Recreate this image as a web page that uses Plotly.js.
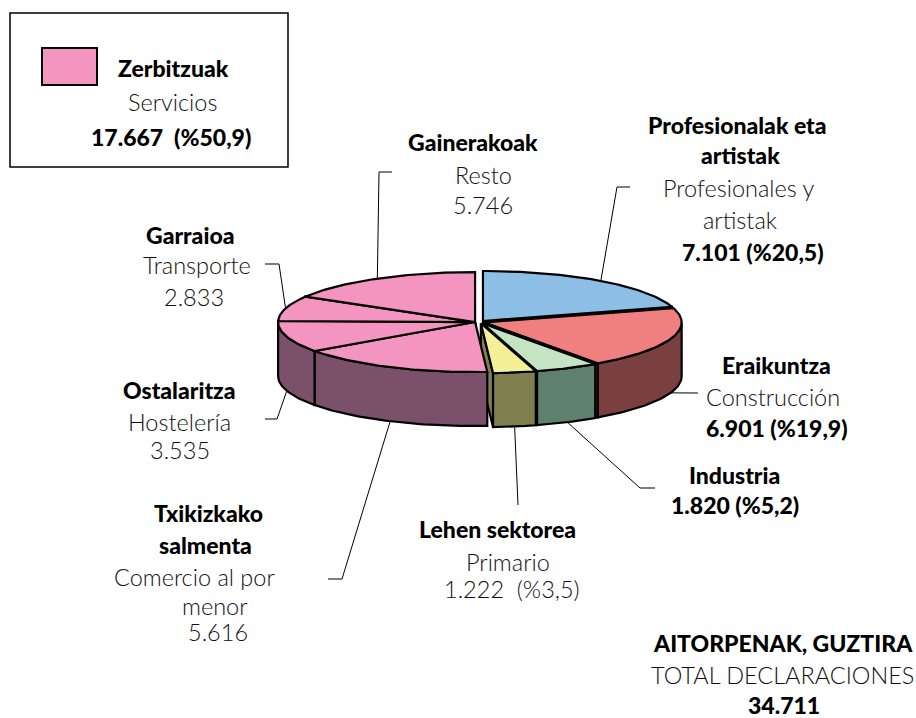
<!DOCTYPE html>
<html><head><meta charset="utf-8">
<script src="https://cdn.plot.ly/plotly-3.0.1.min.js"></script>
<style>html,body{margin:0;padding:0;background:#fff}#chart{width:916px;height:718px}</style>
</head><body><div id="chart"></div>
<script>
// ---------- DATA ----------
const sectorNamesEu = ['Profesionalak eta\nartistak','Eraikuntza','Industria','Lehen sektorea','Txikizkako\nsalmenta','Ostalaritza','Garraioa','Gainerakoak'];
const sectorNamesEs = ['Profesionales y\nartistak','Construcción','','Primario','Comercio al por\nmenor','Hostelería','Transporte','Resto'];
const sectorValues = [7101, 6901, 1820, 1222, 5616, 3535, 2833, 5746];
const sectorGroups = ['prof','cons','ind','prim','serv','serv','serv','serv'];
const servicesNameEu = 'Zerbitzuak';
const servicesNameEs = 'Servicios';
const servicesValue = 17667;
const totalNameEu = 'AITORPENAK, GUZTIRA';
const totalNameEs = 'TOTAL DECLARACIONES';
const totalValue = 34711;

// ---------- STYLE / GEOMETRY ----------
const topColors  = ['#8CBEE6','#F08080','#C4E4C4','#F4F098','#F494C0','#F494C0','#F494C0','#F494C0'];
const sideColors = ['#5F7F9A','#7A4040','#60806E','#80804F','#7A506A','#7A506A','#7A506A','#7A506A'];
const CX = 480, CY = 322, RX = 197, RY = 50, DEPTH = 54, EXPL = 0.025;
const FONT = 'Lato, "Open Sans", sans-serif';

const labelLayout = [
  {lines:[[737,125],[740,155],[739,188],[740,220],[753,252]], value:'boldPct',  leader:[[617,187],[630,187]]},
  {lines:[[776,365],[773,397],[777,428]],                     value:'boldPct',  leader:[[698,393]]},
  {lines:[[734,475],[735,505]],                               value:'boldPct',  leader:[[640,488],[655,488]]},
  {lines:[[497,529],[508,562],[512,589]],                     value:'lightPct', leader:[[518,505]]},
  {lines:[[208,513],[205,545],[194,577],[215,606],[218,632]], value:'light',    leader:[[342,579],[328,579]]},
  {lines:[[179,390],[179,422],[180,450]],                     value:'light',    leader:[[277,419],[265,419]]},
  {lines:[[190,235],[197,265],[194,297]],                     value:'light',    leader:[[279,264],[265,264]]},
  {lines:[[473,142],[483,175],[483,205]],                     value:'light',    leader:[[379,172],[392,172]]}
];

// ---------- HELPERS ----------
const fmtInt = v => String(v).replace(/\B(?=(\d{3})+(?!\d))/g, '.');
const fmtPct = v => (v / totalValue * 100).toFixed(1).replace('.', ',');
const rad = d => d * Math.PI / 180;

const sum = sectorValues.reduce((a, b) => a + b, 0);
const starts = [], ends = [];
let acc = 0;
sectorValues.forEach(v => { starts.push(acc / sum * 360); acc += v; ends.push(acc / sum * 360); });

const groupRange = {};
sectorGroups.forEach((g, i) => {
  if (!groupRange[g]) groupRange[g] = [starts[i], ends[i]];
  else { groupRange[g][0] = Math.min(groupRange[g][0], starts[i]); groupRange[g][1] = Math.max(groupRange[g][1], ends[i]); }
});
const offsets = sectorGroups.map(g => {
  const m = rad((groupRange[g][0] + groupRange[g][1]) / 2);
  return [EXPL * RX * Math.sin(m), -EXPL * RY * Math.cos(m)];
});

function pt(theta, off, down) {
  const t = rad(theta);
  return [CX + off[0] + RX * Math.sin(t), CY + off[1] - RY * Math.cos(t) + (down ? DEPTH : 0)];
}
function arc(a, b, off, down) {
  const n = Math.max(2, Math.ceil(Math.abs(b - a)));
  const p = [];
  for (let k = 0; k <= n; k++) p.push(pt(a + (b - a) * k / n, off, down));
  return p;
}
function poly(pts, fill) {
  const c = pts.concat([pts[0]]);
  return {type:'scatter', mode:'lines', x:c.map(p => p[0]), y:c.map(p => p[1]),
    fill:'toself', fillcolor:fill, line:{color:'#000', width:2.2},
    hoverinfo:'skip', showlegend:false};
}

const traces = [];
sectorValues.forEach((v, i) => {
  const off = offsets[i];
  const c0 = [CX + off[0], CY + off[1]], c1 = [CX + off[0], CY + off[1] + DEPTH];
  [[ends[i], Math.sin(rad(ends[i])) > 0], [starts[i], Math.sin(rad(starts[i])) < 0]].forEach(([ang, vis]) => {
    if (vis) traces.push(poly([c0, pt(ang, off, false), pt(ang, off, true), c1], sideColors[i]));
  });
});
sectorValues.forEach((v, i) => {
  const a = Math.max(starts[i], 90), b = Math.min(ends[i], 270);
  if (b > a) traces.push(poly(arc(a, b, offsets[i], false).concat(arc(b, a, offsets[i], true)), sideColors[i]));
});
sectorValues.forEach((v, i) => {
  const off = offsets[i];
  traces.push(poly([[CX + off[0], CY + off[1]]].concat(arc(starts[i], ends[i], off, false)), topColors[i]));
});
sectorValues.forEach((v, i) => {
  const mid = (starts[i] + ends[i]) / 2;
  const front = Math.cos(rad(mid)) < 0;
  const s = pt(mid, offsets[i], front);
  const p = [s].concat(labelLayout[i].leader);
  traces.push({type:'scatter', mode:'lines', x:p.map(q => q[0]), y:p.map(q => q[1]),
    line:{color:'#000', width:1}, hoverinfo:'skip', showlegend:false});
});

// ---------- TEXT ----------
const annotations = [];
function txt(x, y, text, bold) {
  annotations.push({x, y, xref:'x', yref:'y', text, showarrow:false, xanchor:'center', yanchor:'middle',
    font: bold ? {family:FONT, size:23, color:'#000', weight:900} : {family:FONT, size:23.5, color:'#111', weight:300}});
}
sectorValues.forEach((v, i) => {
  const L = labelLayout[i];
  const items = [];
  sectorNamesEu[i].split('\n').forEach(s => items.push([s, true]));
  if (sectorNamesEs[i]) sectorNamesEs[i].split('\n').forEach(s => items.push([s, false]));
  if (L.value === 'boldPct') items.push([fmtInt(v) + ' (%' + fmtPct(v) + ')', true]);
  else if (L.value === 'lightPct') items.push([fmtInt(v) + '  (%' + fmtPct(v) + ')', false]);
  else items.push([fmtInt(v), false]);
  items.forEach((it, k) => txt(L.lines[k][0], L.lines[k][1], it[0], it[1]));
});
txt(173, 68, servicesNameEu, true);
txt(172, 102, servicesNameEs, false);
txt(171, 137, fmtInt(servicesValue) + '  (%' + fmtPct(servicesValue) + ')', true);
txt(783, 643, totalNameEu, true);
txt(782, 675, totalNameEs, false);
txt(784, 705, fmtInt(totalValue), true);

const shapes = [
  {type:'rect', xref:'x', yref:'y', x0:10, y0:13, x1:288, y1:167, line:{color:'#000', width:1.5}, fillcolor:'rgba(0,0,0,0)'},
  {type:'rect', xref:'x', yref:'y', x0:42, y0:48, x1:97, y1:85, line:{color:'#000', width:2}, fillcolor:topColors[4]}
];

const layout = {
  width:916, height:718, margin:{l:0, r:0, t:0, b:0},
  paper_bgcolor:'#fff', plot_bgcolor:'#fff',
  xaxis:{range:[0,916], visible:false, fixedrange:true},
  yaxis:{range:[718,0], visible:false, fixedrange:true},
  showlegend:false, hovermode:false,
  annotations, shapes
};
Plotly.newPlot('chart', traces, layout, {displayModeBar:false, staticPlot:true});
</script>
</body></html>
